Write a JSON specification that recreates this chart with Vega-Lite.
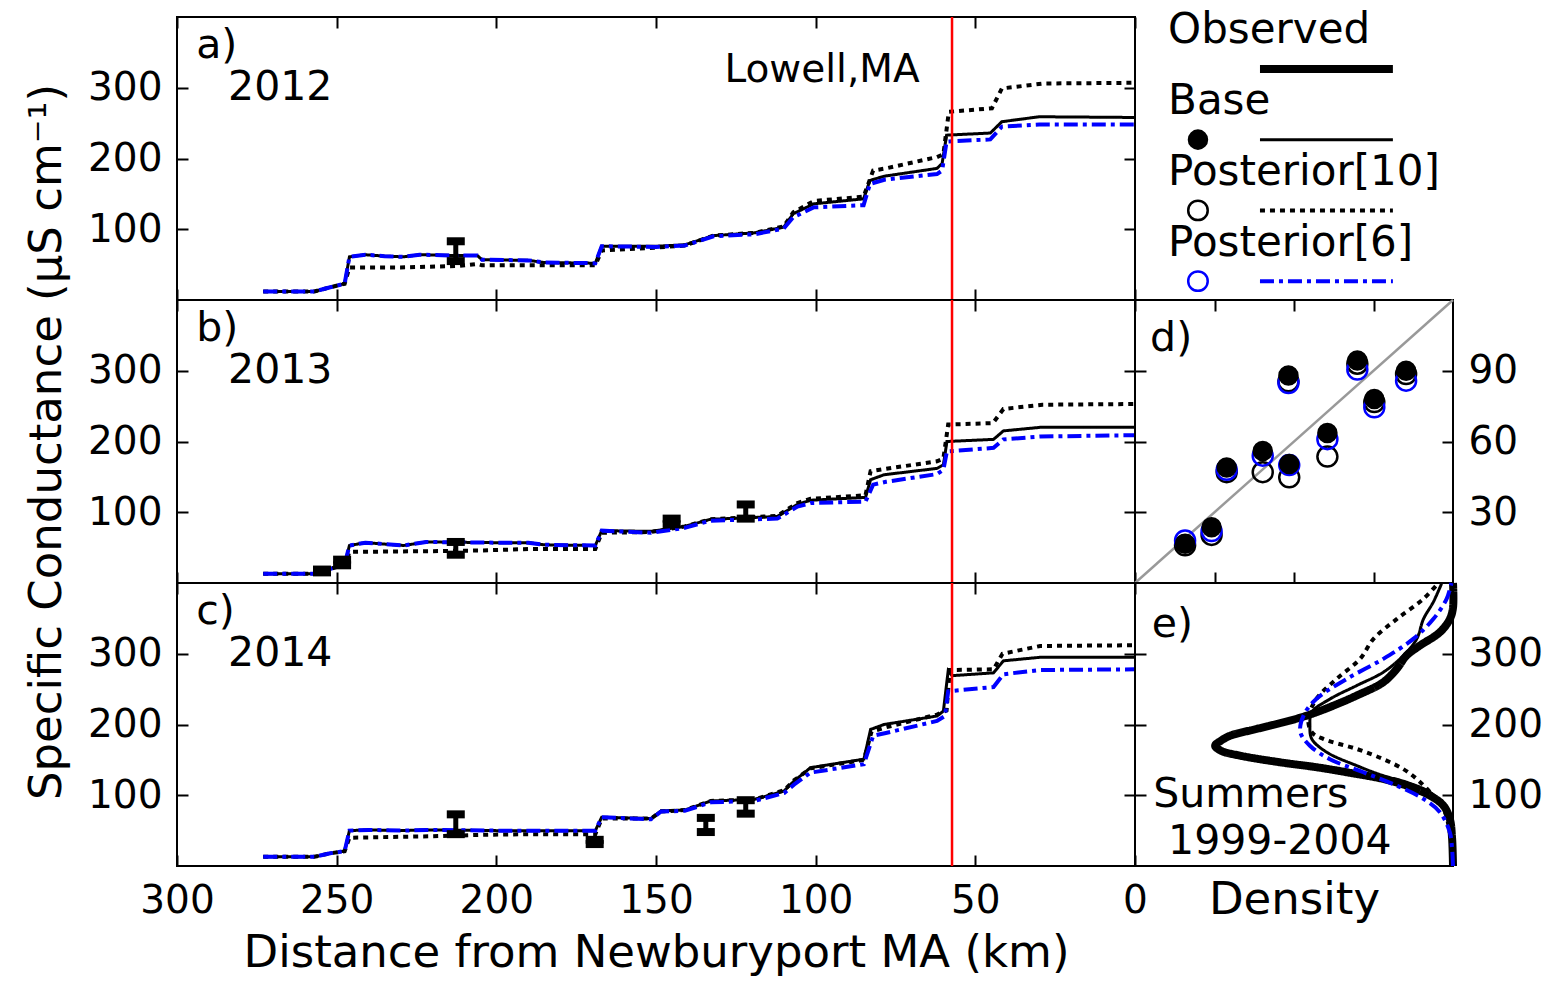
{
  "$schema": "https://vega.github.io/schema/vega-lite/v6.json",
  "background": "white",
  "padding": {"left": 23, "top": 9, "right": 0, "bottom": 0},
  "datasets": {
    "lines": [
      {"panel":"a","series":"Base","km":273,"sc":12},{"panel":"a","series":"Base","km":257,"sc":12},{"panel":"a","series":"Base","km":252,"sc":18},{"panel":"a","series":"Base","km":247.5,"sc":23},{"panel":"a","series":"Base","km":246,"sc":61},{"panel":"a","series":"Base","km":241,"sc":64},{"panel":"a","series":"Base","km":235,"sc":62},{"panel":"a","series":"Base","km":229,"sc":61},{"panel":"a","series":"Base","km":224,"sc":64},{"panel":"a","series":"Base","km":214,"sc":63},{"panel":"a","series":"Base","km":206,"sc":63},{"panel":"a","series":"Base","km":204.5,"sc":57},{"panel":"a","series":"Base","km":190,"sc":56},{"panel":"a","series":"Base","km":185,"sc":53},{"panel":"a","series":"Base","km":169,"sc":52},{"panel":"a","series":"Base","km":167,"sc":76},{"panel":"a","series":"Base","km":150,"sc":76},{"panel":"a","series":"Base","km":141,"sc":78},{"panel":"a","series":"Base","km":132,"sc":91},{"panel":"a","series":"Base","km":119,"sc":95},{"panel":"a","series":"Base","km":110,"sc":103},{"panel":"a","series":"Base","km":107,"sc":122},{"panel":"a","series":"Base","km":100.5,"sc":136},{"panel":"a","series":"Base","km":85,"sc":143},{"panel":"a","series":"Base","km":83,"sc":169},{"panel":"a","series":"Base","km":78.5,"sc":175},{"panel":"a","series":"Base","km":62,"sc":186},{"panel":"a","series":"Base","km":60.4,"sc":193},{"panel":"a","series":"Base","km":59,"sc":233},{"panel":"a","series":"Base","km":45.3,"sc":236},{"panel":"a","series":"Base","km":41.7,"sc":252},{"panel":"a","series":"Base","km":30,"sc":259},{"panel":"a","series":"Base","km":0,"sc":258},
      {"panel":"a","series":"Posterior[10]","km":273,"sc":12},{"panel":"a","series":"Posterior[10]","km":257,"sc":12},{"panel":"a","series":"Posterior[10]","km":252,"sc":18},{"panel":"a","series":"Posterior[10]","km":247.5,"sc":23},{"panel":"a","series":"Posterior[10]","km":246,"sc":46},{"panel":"a","series":"Posterior[10]","km":230,"sc":46},{"panel":"a","series":"Posterior[10]","km":222,"sc":47},{"panel":"a","series":"Posterior[10]","km":212,"sc":48},{"panel":"a","series":"Posterior[10]","km":206,"sc":51},{"panel":"a","series":"Posterior[10]","km":204.5,"sc":49},{"panel":"a","series":"Posterior[10]","km":185,"sc":49},{"panel":"a","series":"Posterior[10]","km":169,"sc":49},{"panel":"a","series":"Posterior[10]","km":167,"sc":70},{"panel":"a","series":"Posterior[10]","km":150,"sc":74},{"panel":"a","series":"Posterior[10]","km":141,"sc":77},{"panel":"a","series":"Posterior[10]","km":132,"sc":91},{"panel":"a","series":"Posterior[10]","km":119,"sc":95},{"panel":"a","series":"Posterior[10]","km":110,"sc":104},{"panel":"a","series":"Posterior[10]","km":107,"sc":124},{"panel":"a","series":"Posterior[10]","km":100.5,"sc":140},{"panel":"a","series":"Posterior[10]","km":85,"sc":146},{"panel":"a","series":"Posterior[10]","km":82,"sc":183},{"panel":"a","series":"Posterior[10]","km":78,"sc":186},{"panel":"a","series":"Posterior[10]","km":62,"sc":202},{"panel":"a","series":"Posterior[10]","km":60,"sc":206},{"panel":"a","series":"Posterior[10]","km":58.3,"sc":266},{"panel":"a","series":"Posterior[10]","km":44.8,"sc":271},{"panel":"a","series":"Posterior[10]","km":41.7,"sc":299},{"panel":"a","series":"Posterior[10]","km":28.6,"sc":306},{"panel":"a","series":"Posterior[10]","km":0,"sc":307},
      {"panel":"a","series":"Posterior[6]","km":273,"sc":12},{"panel":"a","series":"Posterior[6]","km":257,"sc":12},{"panel":"a","series":"Posterior[6]","km":252,"sc":18},{"panel":"a","series":"Posterior[6]","km":247.5,"sc":23},{"panel":"a","series":"Posterior[6]","km":246,"sc":61},{"panel":"a","series":"Posterior[6]","km":241,"sc":64},{"panel":"a","series":"Posterior[6]","km":235,"sc":62},{"panel":"a","series":"Posterior[6]","km":229,"sc":61},{"panel":"a","series":"Posterior[6]","km":224,"sc":64},{"panel":"a","series":"Posterior[6]","km":214,"sc":63},{"panel":"a","series":"Posterior[6]","km":206,"sc":63},{"panel":"a","series":"Posterior[6]","km":204.5,"sc":57},{"panel":"a","series":"Posterior[6]","km":190,"sc":56},{"panel":"a","series":"Posterior[6]","km":185,"sc":53},{"panel":"a","series":"Posterior[6]","km":169,"sc":52},{"panel":"a","series":"Posterior[6]","km":167,"sc":76},{"panel":"a","series":"Posterior[6]","km":150,"sc":75},{"panel":"a","series":"Posterior[6]","km":141,"sc":77},{"panel":"a","series":"Posterior[6]","km":132,"sc":90},{"panel":"a","series":"Posterior[6]","km":119,"sc":93},{"panel":"a","series":"Posterior[6]","km":110,"sc":101},{"panel":"a","series":"Posterior[6]","km":107,"sc":117},{"panel":"a","series":"Posterior[6]","km":100.5,"sc":131},{"panel":"a","series":"Posterior[6]","km":85,"sc":134},{"panel":"a","series":"Posterior[6]","km":83,"sc":164},{"panel":"a","series":"Posterior[6]","km":78.5,"sc":170},{"panel":"a","series":"Posterior[6]","km":62,"sc":178},{"panel":"a","series":"Posterior[6]","km":60.4,"sc":183},{"panel":"a","series":"Posterior[6]","km":59,"sc":224},{"panel":"a","series":"Posterior[6]","km":45.3,"sc":227},{"panel":"a","series":"Posterior[6]","km":41.7,"sc":245},{"panel":"a","series":"Posterior[6]","km":30,"sc":248},{"panel":"a","series":"Posterior[6]","km":0,"sc":248},
      {"panel":"b","series":"Base","km":273,"sc":13},{"panel":"b","series":"Base","km":257,"sc":13},{"panel":"b","series":"Base","km":252,"sc":20},{"panel":"b","series":"Base","km":247.5,"sc":26},{"panel":"b","series":"Base","km":246,"sc":53},{"panel":"b","series":"Base","km":241,"sc":57},{"panel":"b","series":"Base","km":235,"sc":55},{"panel":"b","series":"Base","km":229,"sc":53},{"panel":"b","series":"Base","km":222,"sc":58},{"panel":"b","series":"Base","km":200,"sc":57},{"panel":"b","series":"Base","km":190,"sc":57},{"panel":"b","series":"Base","km":185,"sc":54},{"panel":"b","series":"Base","km":169,"sc":53},{"panel":"b","series":"Base","km":167,"sc":74},{"panel":"b","series":"Base","km":151.6,"sc":73},{"panel":"b","series":"Base","km":141,"sc":80},{"panel":"b","series":"Base","km":133,"sc":90},{"panel":"b","series":"Base","km":112,"sc":94},{"panel":"b","series":"Base","km":105.7,"sc":111},{"panel":"b","series":"Base","km":101.6,"sc":117},{"panel":"b","series":"Base","km":84.4,"sc":121},{"panel":"b","series":"Base","km":82.8,"sc":146},{"panel":"b","series":"Base","km":78.6,"sc":153},{"panel":"b","series":"Base","km":62,"sc":162},{"panel":"b","series":"Base","km":60,"sc":167},{"panel":"b","series":"Base","km":58.9,"sc":200},{"panel":"b","series":"Base","km":44.3,"sc":203},{"panel":"b","series":"Base","km":41.2,"sc":215},{"panel":"b","series":"Base","km":29.7,"sc":220},{"panel":"b","series":"Base","km":0,"sc":220},
      {"panel":"b","series":"Posterior[10]","km":273,"sc":13},{"panel":"b","series":"Posterior[10]","km":257,"sc":13},{"panel":"b","series":"Posterior[10]","km":252,"sc":20},{"panel":"b","series":"Posterior[10]","km":247.5,"sc":26},{"panel":"b","series":"Posterior[10]","km":246,"sc":44},{"panel":"b","series":"Posterior[10]","km":220,"sc":45},{"panel":"b","series":"Posterior[10]","km":205,"sc":46},{"panel":"b","series":"Posterior[10]","km":190,"sc":48},{"panel":"b","series":"Posterior[10]","km":169,"sc":48},{"panel":"b","series":"Posterior[10]","km":167,"sc":71},{"panel":"b","series":"Posterior[10]","km":151.6,"sc":72},{"panel":"b","series":"Posterior[10]","km":141,"sc":80},{"panel":"b","series":"Posterior[10]","km":133,"sc":90},{"panel":"b","series":"Posterior[10]","km":112,"sc":95},{"panel":"b","series":"Posterior[10]","km":105.7,"sc":113},{"panel":"b","series":"Posterior[10]","km":101.6,"sc":119},{"panel":"b","series":"Posterior[10]","km":84.4,"sc":124},{"panel":"b","series":"Posterior[10]","km":82.8,"sc":158},{"panel":"b","series":"Posterior[10]","km":78.6,"sc":161},{"panel":"b","series":"Posterior[10]","km":62,"sc":172},{"panel":"b","series":"Posterior[10]","km":60,"sc":176},{"panel":"b","series":"Posterior[10]","km":58.5,"sc":224},{"panel":"b","series":"Posterior[10]","km":44.5,"sc":226},{"panel":"b","series":"Posterior[10]","km":41.2,"sc":246},{"panel":"b","series":"Posterior[10]","km":29,"sc":252},{"panel":"b","series":"Posterior[10]","km":0,"sc":253},
      {"panel":"b","series":"Posterior[6]","km":273,"sc":13},{"panel":"b","series":"Posterior[6]","km":257,"sc":13},{"panel":"b","series":"Posterior[6]","km":252,"sc":20},{"panel":"b","series":"Posterior[6]","km":247.5,"sc":26},{"panel":"b","series":"Posterior[6]","km":246,"sc":53},{"panel":"b","series":"Posterior[6]","km":241,"sc":57},{"panel":"b","series":"Posterior[6]","km":235,"sc":55},{"panel":"b","series":"Posterior[6]","km":229,"sc":53},{"panel":"b","series":"Posterior[6]","km":222,"sc":58},{"panel":"b","series":"Posterior[6]","km":200,"sc":57},{"panel":"b","series":"Posterior[6]","km":190,"sc":57},{"panel":"b","series":"Posterior[6]","km":185,"sc":54},{"panel":"b","series":"Posterior[6]","km":169,"sc":53},{"panel":"b","series":"Posterior[6]","km":167,"sc":74},{"panel":"b","series":"Posterior[6]","km":151.6,"sc":71},{"panel":"b","series":"Posterior[6]","km":141,"sc":78},{"panel":"b","series":"Posterior[6]","km":133,"sc":88},{"panel":"b","series":"Posterior[6]","km":112,"sc":91},{"panel":"b","series":"Posterior[6]","km":105.7,"sc":108},{"panel":"b","series":"Posterior[6]","km":101.6,"sc":113},{"panel":"b","series":"Posterior[6]","km":84.4,"sc":115},{"panel":"b","series":"Posterior[6]","km":82,"sc":139},{"panel":"b","series":"Posterior[6]","km":78,"sc":143},{"panel":"b","series":"Posterior[6]","km":62,"sc":154},{"panel":"b","series":"Posterior[6]","km":60,"sc":160},{"panel":"b","series":"Posterior[6]","km":58.9,"sc":186},{"panel":"b","series":"Posterior[6]","km":44.3,"sc":191},{"panel":"b","series":"Posterior[6]","km":41.2,"sc":203},{"panel":"b","series":"Posterior[6]","km":29.7,"sc":207},{"panel":"b","series":"Posterior[6]","km":0,"sc":209},
      {"panel":"c","series":"Base","km":273,"sc":13},{"panel":"c","series":"Base","km":257,"sc":13},{"panel":"c","series":"Base","km":252,"sc":18},{"panel":"c","series":"Base","km":247.5,"sc":21},{"panel":"c","series":"Base","km":246,"sc":50},{"panel":"c","series":"Base","km":240,"sc":51},{"panel":"c","series":"Base","km":230,"sc":50},{"panel":"c","series":"Base","km":222,"sc":51},{"panel":"c","series":"Base","km":200,"sc":50},{"panel":"c","series":"Base","km":169,"sc":50},{"panel":"c","series":"Base","km":167,"sc":69},{"panel":"c","series":"Base","km":151.6,"sc":67},{"panel":"c","series":"Base","km":148.4,"sc":78},{"panel":"c","series":"Base","km":141,"sc":79},{"panel":"c","series":"Base","km":132.8,"sc":92},{"panel":"c","series":"Base","km":119.3,"sc":94},{"panel":"c","series":"Base","km":109.9,"sc":106},{"panel":"c","series":"Base","km":106.8,"sc":120},{"panel":"c","series":"Base","km":101.6,"sc":139},{"panel":"c","series":"Base","km":84.9,"sc":151},{"panel":"c","series":"Base","km":82.8,"sc":193},{"panel":"c","series":"Base","km":78.6,"sc":200},{"panel":"c","series":"Base","km":62,"sc":212},{"panel":"c","series":"Base","km":60,"sc":219},{"panel":"c","series":"Base","km":58.5,"sc":276},{"panel":"c","series":"Base","km":57.3,"sc":269},{"panel":"c","series":"Base","km":44.3,"sc":273},{"panel":"c","series":"Base","km":41.2,"sc":290},{"panel":"c","series":"Base","km":29.7,"sc":295},{"panel":"c","series":"Base","km":0,"sc":295},
      {"panel":"c","series":"Posterior[10]","km":273,"sc":13},{"panel":"c","series":"Posterior[10]","km":257,"sc":13},{"panel":"c","series":"Posterior[10]","km":252,"sc":18},{"panel":"c","series":"Posterior[10]","km":247.5,"sc":21},{"panel":"c","series":"Posterior[10]","km":246,"sc":40},{"panel":"c","series":"Posterior[10]","km":220,"sc":42},{"panel":"c","series":"Posterior[10]","km":205,"sc":44},{"panel":"c","series":"Posterior[10]","km":190,"sc":45},{"panel":"c","series":"Posterior[10]","km":169,"sc":45},{"panel":"c","series":"Posterior[10]","km":167,"sc":67},{"panel":"c","series":"Posterior[10]","km":151.6,"sc":67},{"panel":"c","series":"Posterior[10]","km":148.4,"sc":77},{"panel":"c","series":"Posterior[10]","km":141,"sc":79},{"panel":"c","series":"Posterior[10]","km":132.8,"sc":92},{"panel":"c","series":"Posterior[10]","km":119.3,"sc":94},{"panel":"c","series":"Posterior[10]","km":109.9,"sc":107},{"panel":"c","series":"Posterior[10]","km":106.8,"sc":121},{"panel":"c","series":"Posterior[10]","km":101.6,"sc":138},{"panel":"c","series":"Posterior[10]","km":84.9,"sc":150},{"panel":"c","series":"Posterior[10]","km":82.5,"sc":190},{"panel":"c","series":"Posterior[10]","km":78,"sc":196},{"panel":"c","series":"Posterior[10]","km":62,"sc":214},{"panel":"c","series":"Posterior[10]","km":59,"sc":220},{"panel":"c","series":"Posterior[10]","km":58,"sc":277},{"panel":"c","series":"Posterior[10]","km":44.3,"sc":278},{"panel":"c","series":"Posterior[10]","km":41.5,"sc":300},{"panel":"c","series":"Posterior[10]","km":29.7,"sc":311},{"panel":"c","series":"Posterior[10]","km":0,"sc":312},
      {"panel":"c","series":"Posterior[6]","km":273,"sc":13},{"panel":"c","series":"Posterior[6]","km":257,"sc":13},{"panel":"c","series":"Posterior[6]","km":252,"sc":18},{"panel":"c","series":"Posterior[6]","km":247.5,"sc":21},{"panel":"c","series":"Posterior[6]","km":246,"sc":50},{"panel":"c","series":"Posterior[6]","km":240,"sc":51},{"panel":"c","series":"Posterior[6]","km":230,"sc":50},{"panel":"c","series":"Posterior[6]","km":222,"sc":51},{"panel":"c","series":"Posterior[6]","km":200,"sc":50},{"panel":"c","series":"Posterior[6]","km":169,"sc":50},{"panel":"c","series":"Posterior[6]","km":167,"sc":69},{"panel":"c","series":"Posterior[6]","km":151.6,"sc":66},{"panel":"c","series":"Posterior[6]","km":148.4,"sc":77},{"panel":"c","series":"Posterior[6]","km":141,"sc":78},{"panel":"c","series":"Posterior[6]","km":132.8,"sc":90},{"panel":"c","series":"Posterior[6]","km":119.3,"sc":92},{"panel":"c","series":"Posterior[6]","km":109.9,"sc":103},{"panel":"c","series":"Posterior[6]","km":106.8,"sc":115},{"panel":"c","series":"Posterior[6]","km":101.6,"sc":132},{"panel":"c","series":"Posterior[6]","km":84.9,"sc":144},{"panel":"c","series":"Posterior[6]","km":82,"sc":184},{"panel":"c","series":"Posterior[6]","km":78,"sc":188},{"panel":"c","series":"Posterior[6]","km":62,"sc":205},{"panel":"c","series":"Posterior[6]","km":59.5,"sc":212},{"panel":"c","series":"Posterior[6]","km":58.5,"sc":247},{"panel":"c","series":"Posterior[6]","km":44.3,"sc":253},{"panel":"c","series":"Posterior[6]","km":41.2,"sc":271},{"panel":"c","series":"Posterior[6]","km":29.7,"sc":277},{"panel":"c","series":"Posterior[6]","km":0,"sc":278}
    ],
    "obs": [
      {"panel":"a","km":212.7,"lo":55,"hi":83},
      {"panel":"b","km":254.6,"lo":15,"hi":19},
      {"panel":"b","km":248.3,"lo":25,"hi":33},
      {"panel":"b","km":212.7,"lo":40,"hi":58},
      {"panel":"b","km":145.1,"lo":83,"hi":91},
      {"panel":"b","km":121.9,"lo":91,"hi":111},
      {"panel":"c","km":212.7,"lo":45,"hi":73},
      {"panel":"c","km":169.2,"lo":31,"hi":37},
      {"panel":"c","km":134.4,"lo":48,"hi":68},
      {"panel":"c","km":121.9,"lo":74,"hi":93}
    ],
    "lowell": [{"km":57.3,"label":"Lowell,MA"}],
    "tags": [
      {"panel":"a","tag":"a)","year":"2012"},
      {"panel":"b","tag":"b)","year":"2013"},
      {"panel":"c","tag":"c)","year":"2014"},
      {"panel":"d","tag":"d)","year":""},
      {"panel":"e","tag":"e)","year":"Summers","period":"1999-2004"}
    ],
    "legend": [
      {"series":"Observed"},{"series":"Base"},{"series":"Posterior[10]"},{"series":"Posterior[6]"}
    ],
    "diag": [{"v":0},{"v":120}],
    "scatter": [
      {"series":"Base","obs":18.9,"mod":16.6},{"series":"Base","obs":28.9,"mod":23.6},{"series":"Base","obs":34.6,"mod":49},{"series":"Base","obs":48.2,"mod":56},{"series":"Base","obs":57.9,"mod":88},{"series":"Base","obs":58.2,"mod":50.5},{"series":"Base","obs":72.6,"mod":63.6},{"series":"Base","obs":83.9,"mod":94.3},{"series":"Base","obs":90.3,"mod":78},{"series":"Base","obs":102.3,"mod":90},
      {"series":"Posterior[10]","obs":18.9,"mod":16},{"series":"Posterior[10]","obs":28.9,"mod":20.4},{"series":"Posterior[10]","obs":34.6,"mod":47},{"series":"Posterior[10]","obs":48.2,"mod":47},{"series":"Posterior[10]","obs":57.9,"mod":85.5},{"series":"Posterior[10]","obs":58.2,"mod":44.8},{"series":"Posterior[10]","obs":72.6,"mod":53.6},{"series":"Posterior[10]","obs":83.9,"mod":93},{"series":"Posterior[10]","obs":90.3,"mod":76.7},{"series":"Posterior[10]","obs":102.3,"mod":88.6},
      {"series":"Posterior[6]","obs":18.9,"mod":18},{"series":"Posterior[6]","obs":28.9,"mod":22},{"series":"Posterior[6]","obs":34.6,"mod":48},{"series":"Posterior[6]","obs":48.2,"mod":54},{"series":"Posterior[6]","obs":57.9,"mod":84.8},{"series":"Posterior[6]","obs":58.2,"mod":50},{"series":"Posterior[6]","obs":72.6,"mod":61},{"series":"Posterior[6]","obs":83.9,"mod":90.5},{"series":"Posterior[6]","obs":90.3,"mod":74.5},{"series":"Posterior[6]","obs":102.3,"mod":85.8}
    ],
    "density": [
      {"series":"Observed","sc":0,"dens":0},{"series":"Observed","sc":40,"dens":0.003},{"series":"Observed","sc":66.5,"dens":0.01},{"series":"Observed","sc":85.3,"dens":0.03},{"series":"Observed","sc":99.4,"dens":0.072},{"series":"Observed","sc":113.6,"dens":0.146},{"series":"Observed","sc":123,"dens":0.219},{"series":"Observed","sc":132.5,"dens":0.334},{"series":"Observed","sc":139.6,"dens":0.429},{"series":"Observed","sc":146.6,"dens":0.544},{"series":"Observed","sc":156,"dens":0.67},{"series":"Observed","sc":163,"dens":0.73},{"series":"Observed","sc":170,"dens":0.748},{"series":"Observed","sc":177,"dens":0.73},{"series":"Observed","sc":184.3,"dens":0.7},{"series":"Observed","sc":193.8,"dens":0.617},{"series":"Observed","sc":205.5,"dens":0.513},{"series":"Observed","sc":215,"dens":0.444},{"series":"Observed","sc":226.7,"dens":0.376},{"series":"Observed","sc":240.9,"dens":0.303},{"series":"Observed","sc":259.8,"dens":0.219},{"series":"Observed","sc":278.6,"dens":0.177},{"series":"Observed","sc":297.5,"dens":0.146},{"series":"Observed","sc":311.6,"dens":0.104},{"series":"Observed","sc":330.5,"dens":0.041},{"series":"Observed","sc":349,"dens":0.01},{"series":"Observed","sc":365,"dens":0},{"series":"Observed","sc":400,"dens":0},
      {"series":"Base","sc":0,"dens":0},{"series":"Base","sc":40,"dens":0.003},{"series":"Base","sc":66.5,"dens":0.01},{"series":"Base","sc":85.3,"dens":0.03},{"series":"Base","sc":104.2,"dens":0.072},{"series":"Base","sc":118.4,"dens":0.146},{"series":"Base","sc":127.7,"dens":0.219},{"series":"Base","sc":141.9,"dens":0.303},{"series":"Base","sc":160.8,"dens":0.397},{"series":"Base","sc":179.6,"dens":0.444},{"series":"Base","sc":198.5,"dens":0.45},{"series":"Base","sc":217.4,"dens":0.444},{"series":"Base","sc":236,"dens":0.387},{"series":"Base","sc":255,"dens":0.303},{"series":"Base","sc":274,"dens":0.219},{"series":"Base","sc":297.5,"dens":0.156},{"series":"Base","sc":321,"dens":0.114},{"series":"Base","sc":349,"dens":0.093},{"series":"Base","sc":373,"dens":0.062},{"series":"Base","sc":399,"dens":0.036},
      {"series":"Posterior[10]","sc":0,"dens":0},{"series":"Posterior[10]","sc":47.6,"dens":0.01},{"series":"Posterior[10]","sc":80.6,"dens":0.03},{"series":"Posterior[10]","sc":104.2,"dens":0.072},{"series":"Posterior[10]","sc":123,"dens":0.114},{"series":"Posterior[10]","sc":137,"dens":0.156},{"series":"Posterior[10]","sc":151,"dens":0.219},{"series":"Posterior[10]","sc":165.5,"dens":0.303},{"series":"Posterior[10]","sc":179.6,"dens":0.408},{"series":"Posterior[10]","sc":189,"dens":0.444},{"series":"Posterior[10]","sc":208,"dens":0.455},{"series":"Posterior[10]","sc":236,"dens":0.43},{"series":"Posterior[10]","sc":264.5,"dens":0.366},{"series":"Posterior[10]","sc":292.8,"dens":0.292},{"series":"Posterior[10]","sc":321,"dens":0.25},{"series":"Posterior[10]","sc":349,"dens":0.177},{"series":"Posterior[10]","sc":377.6,"dens":0.093},{"series":"Posterior[10]","sc":400,"dens":0.046},
      {"series":"Posterior[6]","sc":0,"dens":0},{"series":"Posterior[6]","sc":25,"dens":0.003},{"series":"Posterior[6]","sc":47.6,"dens":0.01},{"series":"Posterior[6]","sc":76,"dens":0.041},{"series":"Posterior[6]","sc":94.8,"dens":0.093},{"series":"Posterior[6]","sc":113.6,"dens":0.177},{"series":"Posterior[6]","sc":132.5,"dens":0.282},{"series":"Posterior[6]","sc":151,"dens":0.387},{"series":"Posterior[6]","sc":170,"dens":0.45},{"series":"Posterior[6]","sc":189,"dens":0.48},{"series":"Posterior[6]","sc":212.6,"dens":0.47},{"series":"Posterior[6]","sc":236,"dens":0.43},{"series":"Posterior[6]","sc":264.5,"dens":0.334},{"series":"Posterior[6]","sc":292.8,"dens":0.219},{"series":"Posterior[6]","sc":321,"dens":0.125},{"series":"Posterior[6]","sc":349,"dens":0.062},{"series":"Posterior[6]","sc":377.6,"dens":0.02},{"series":"Posterior[6]","sc":400,"dens":0.005}
    ]
  },
  "columns": 2,
  "spacing": 0,
  "bounds": "flush",
  "concat": [
    {
      "width": 958, "height": 283,
      "layer": [
        {"data":{"name":"lines"},"transform":[{"filter":"datum.panel==='a'"}],"mark":{"type":"line"},
         "encoding":{
           "x":{"field":"km","type":"quantitative","scale":{"domain":[0,300],"reverse":true,"nice":false,"zero":false},"axis":{"orient":"bottom","values":[0,50,100,150,200,250,300],"labels":false,"title":null}},
           "y":{"field":"sc","type":"quantitative","scale":{"domain":[0,400],"nice":false,"zero":false},"axis":{"orient":"left","values":[100,200,300],"title":null}},
           "color":{"field":"series","type":"nominal","scale":{"domain":["Observed","Base","Posterior[10]","Posterior[6]"],"range":["#000000","#000000","#000000","#0000ff"]},"legend":null},
           "strokeDash":{"field":"series","type":"nominal","scale":{"domain":["Observed","Base","Posterior[10]","Posterior[6]"],"range":[[1,0],[1,0],[5,5],[14,5,4,5]]},"legend":null},
           "strokeWidth":{"field":"series","type":"nominal","scale":{"type":"ordinal","domain":["Observed","Base","Posterior[10]","Posterior[6]"],"range":[8,3,4,4]},"legend":null}
         }},
        {"data":{"name":"lowell"},"mark":{"type":"rule","color":"#ff0000","strokeWidth":2.5},"encoding":{"x":{"field":"km","type":"quantitative","axis":null}}},
        {"data":{"name":"obs"},"transform":[{"filter":"datum.panel==='a'"}],"mark":{"type":"rule","color":"black","strokeWidth":5},
         "encoding":{"x":{"field":"km","type":"quantitative","axis":{"orient":"top","values":[0,50,100,150,200,250,300],"labels":false,"title":null}},"y":{"field":"lo","type":"quantitative","axis":{"orient":"right","values":[100,200,300],"labels":false,"title":null}},"y2":{"field":"hi"}}},
        {"data":{"name":"obs"},"transform":[{"filter":"datum.panel==='a'"}],"mark":{"type":"tick","orient":"horizontal","color":"black","opacity":1,"thickness":8,"size":18},"encoding":{"x":{"field":"km","type":"quantitative","axis":null},"y":{"field":"lo","type":"quantitative","axis":null}}},
        {"data":{"name":"obs"},"transform":[{"filter":"datum.panel==='a'"}],"mark":{"type":"tick","orient":"horizontal","color":"black","opacity":1,"thickness":8,"size":18},"encoding":{"x":{"field":"km","type":"quantitative","axis":null},"y":{"field":"hi","type":"quantitative","axis":null}}},
        {"data":{"name":"lowell"},"mark":{"type":"text","align":"center","baseline":"alphabetic","fontSize":39},"encoding":{"text":{"field":"label"},"x":{"datum":98,"type":"quantitative","axis":null},"y":{"datum":308,"type":"quantitative","axis":null}}},
        {"data":{"name":"tags"},"transform":[{"filter":"datum.panel==='a'"}],"mark":{"type":"text","align":"left","baseline":"alphabetic","fontSize":41},"encoding":{"text":{"field":"tag"},"x":{"datum":294,"type":"quantitative","axis":null},"y":{"datum":342,"type":"quantitative","axis":null}}},
        {"data":{"name":"tags"},"transform":[{"filter":"datum.panel==='a'"}],"mark":{"type":"text","align":"left","baseline":"alphabetic","fontSize":41},"encoding":{"text":{"field":"year"},"x":{"datum":284,"type":"quantitative","axis":null},"y":{"datum":282,"type":"quantitative","axis":null}}}
      ],
      "resolve":{"axis":{"x":"independent","y":"independent"}}
    },
    {
      "width": 318, "height": 283,
      "view": {"stroke": null},
      "data": {"name":"legend"},
      "encoding": {"y":{"field":"series","type":"nominal","sort":null,"scale":{"domain":["Observed","Base","Posterior[10]","Posterior[6]"],"paddingInner":0,"paddingOuter":-0.05},"axis":null}},
      "layer": [
        {"mark":{"type":"text","align":"left","baseline":"alphabetic","fontSize":42,"yOffset":-9},"encoding":{"text":{"field":"series"},"x":{"datum":0.104,"type":"quantitative","scale":{"domain":[0,1],"nice":false},"axis":null}}},
        {"mark":{"type":"rule","yOffset":16.5},"encoding":{
           "x":{"datum":0.393,"type":"quantitative","axis":null},"x2":{"datum":0.811},
           "color":{"field":"series","type":"nominal","scale":{"domain":["Observed","Base","Posterior[10]","Posterior[6]"],"range":["#000000","#000000","#000000","#0000ff"]},"legend":null},
           "strokeDash":{"field":"series","type":"nominal","scale":{"domain":["Observed","Base","Posterior[10]","Posterior[6]"],"range":[[1,0],[1,0],[5,5],[14,5,4,5]]},"legend":null},
           "strokeWidth":{"field":"series","type":"nominal","scale":{"type":"ordinal","domain":["Observed","Base","Posterior[10]","Posterior[6]"],"range":[8,3,4,4]},"legend":null}}},
        {"transform":[{"filter":"datum.series==='Base'"}],"mark":{"type":"point","filled":true,"color":"black","opacity":1,"size":420,"yOffset":16.5},"encoding":{"x":{"datum":0.198,"type":"quantitative","axis":null}}},
        {"transform":[{"filter":"datum.series==='Posterior[10]'"}],"mark":{"type":"point","filled":false,"color":"black","opacity":1,"size":380,"strokeWidth":2.5,"yOffset":16.5},"encoding":{"x":{"datum":0.198,"type":"quantitative","axis":null}}},
        {"transform":[{"filter":"datum.series==='Posterior[6]'"}],"mark":{"type":"point","filled":false,"color":"#0000ff","opacity":1,"size":380,"strokeWidth":2.5,"yOffset":16.5},"encoding":{"x":{"datum":0.198,"type":"quantitative","axis":null}}}
      ]
    },
    {
      "width": 958, "height": 283,
      "layer": [
        {"data":{"name":"lines"},"transform":[{"filter":"datum.panel==='b'"}],"mark":{"type":"line"},
         "encoding":{
           "x":{"field":"km","type":"quantitative","scale":{"domain":[0,300],"reverse":true,"nice":false,"zero":false},"axis":{"orient":"bottom","values":[0,50,100,150,200,250,300],"labels":false,"title":null}},
           "y":{"field":"sc","type":"quantitative","scale":{"domain":[0,400],"nice":false,"zero":false},"axis":{"orient":"left","values":[100,200,300],"title":"Specific Conductance (μS cm⁻¹)","titlePadding":18}},
           "color":{"field":"series","type":"nominal","scale":{"domain":["Observed","Base","Posterior[10]","Posterior[6]"],"range":["#000000","#000000","#000000","#0000ff"]},"legend":null},
           "strokeDash":{"field":"series","type":"nominal","scale":{"domain":["Observed","Base","Posterior[10]","Posterior[6]"],"range":[[1,0],[1,0],[5,5],[14,5,4,5]]},"legend":null},
           "strokeWidth":{"field":"series","type":"nominal","scale":{"type":"ordinal","domain":["Observed","Base","Posterior[10]","Posterior[6]"],"range":[8,3,4,4]},"legend":null}
         }},
        {"data":{"name":"lowell"},"mark":{"type":"rule","color":"#ff0000","strokeWidth":2.5},"encoding":{"x":{"field":"km","type":"quantitative","axis":null}}},
        {"data":{"name":"obs"},"transform":[{"filter":"datum.panel==='b'"}],"mark":{"type":"rule","color":"black","strokeWidth":5},
         "encoding":{"x":{"field":"km","type":"quantitative","axis":{"orient":"top","values":[0,50,100,150,200,250,300],"labels":false,"title":null}},"y":{"field":"lo","type":"quantitative","axis":{"orient":"right","values":[100,200,300],"labels":false,"title":null}},"y2":{"field":"hi"}}},
        {"data":{"name":"obs"},"transform":[{"filter":"datum.panel==='b'"}],"mark":{"type":"tick","orient":"horizontal","color":"black","opacity":1,"thickness":8,"size":18},"encoding":{"x":{"field":"km","type":"quantitative","axis":null},"y":{"field":"lo","type":"quantitative","axis":null}}},
        {"data":{"name":"obs"},"transform":[{"filter":"datum.panel==='b'"}],"mark":{"type":"tick","orient":"horizontal","color":"black","opacity":1,"thickness":8,"size":18},"encoding":{"x":{"field":"km","type":"quantitative","axis":null},"y":{"field":"hi","type":"quantitative","axis":null}}},
        {"data":{"name":"tags"},"transform":[{"filter":"datum.panel==='b'"}],"mark":{"type":"text","align":"left","baseline":"alphabetic","fontSize":41},"encoding":{"text":{"field":"tag"},"x":{"datum":294,"type":"quantitative","axis":null},"y":{"datum":342,"type":"quantitative","axis":null}}},
        {"data":{"name":"tags"},"transform":[{"filter":"datum.panel==='b'"}],"mark":{"type":"text","align":"left","baseline":"alphabetic","fontSize":41},"encoding":{"text":{"field":"year"},"x":{"datum":284,"type":"quantitative","axis":null},"y":{"datum":282,"type":"quantitative","axis":null}}}
      ],
      "resolve":{"axis":{"x":"independent","y":"independent"}}
    },
    {
      "width": 318, "height": 283,
      "layer": [
        {"data":{"name":"diag"},"mark":{"type":"line","color":"#999999","strokeWidth":2.5},
         "encoding":{"x":{"field":"v","type":"quantitative","scale":{"domain":[0,120],"nice":false,"zero":false},"axis":{"orient":"bottom","values":[30,60,90],"labels":false,"title":null}},
                     "y":{"field":"v","type":"quantitative","scale":{"domain":[0,120],"nice":false,"zero":false},"axis":{"orient":"left","values":[30,60,90],"labels":false,"title":null}}}},
        {"data":{"name":"scatter"},"transform":[{"filter":"datum.series==='Posterior[10]'"}],"mark":{"type":"point","filled":false,"color":"black","opacity":1,"size":400,"strokeWidth":2.5},
         "encoding":{"x":{"field":"obs","type":"quantitative","axis":{"orient":"top","values":[30,60,90],"labels":false,"title":null}},"y":{"field":"mod","type":"quantitative","axis":{"orient":"right","values":[30,60,90],"title":null}}}},
        {"data":{"name":"scatter"},"transform":[{"filter":"datum.series==='Posterior[6]'"}],"mark":{"type":"point","filled":false,"color":"#0000ff","opacity":1,"size":400,"strokeWidth":2.5},
         "encoding":{"x":{"field":"obs","type":"quantitative","axis":null},"y":{"field":"mod","type":"quantitative","axis":null}}},
        {"data":{"name":"scatter"},"transform":[{"filter":"datum.series==='Base'"}],"mark":{"type":"point","filled":true,"color":"black","opacity":1,"size":420},
         "encoding":{"x":{"field":"obs","type":"quantitative","axis":null},"y":{"field":"mod","type":"quantitative","axis":null}}},
        {"data":{"name":"tags"},"transform":[{"filter":"datum.panel==='d'"}],"mark":{"type":"text","align":"left","baseline":"alphabetic","fontSize":41},"encoding":{"text":{"field":"tag"},"x":{"datum":5.7,"type":"quantitative","axis":null},"y":{"datum":98.5,"type":"quantitative","axis":null}}}
      ],
      "resolve":{"axis":{"x":"independent","y":"independent"}}
    },
    {
      "width": 958, "height": 283,
      "layer": [
        {"data":{"name":"lines"},"transform":[{"filter":"datum.panel==='c'"}],"mark":{"type":"line"},
         "encoding":{
           "x":{"field":"km","type":"quantitative","scale":{"domain":[0,300],"reverse":true,"nice":false,"zero":false},"axis":{"orient":"bottom","values":[0,50,100,150,200,250,300],"title":"Distance from Newburyport MA (km)"}},
           "y":{"field":"sc","type":"quantitative","scale":{"domain":[0,400],"nice":false,"zero":false},"axis":{"orient":"left","values":[100,200,300],"title":null}},
           "color":{"field":"series","type":"nominal","scale":{"domain":["Observed","Base","Posterior[10]","Posterior[6]"],"range":["#000000","#000000","#000000","#0000ff"]},"legend":null},
           "strokeDash":{"field":"series","type":"nominal","scale":{"domain":["Observed","Base","Posterior[10]","Posterior[6]"],"range":[[1,0],[1,0],[5,5],[14,5,4,5]]},"legend":null},
           "strokeWidth":{"field":"series","type":"nominal","scale":{"type":"ordinal","domain":["Observed","Base","Posterior[10]","Posterior[6]"],"range":[8,3,4,4]},"legend":null}
         }},
        {"data":{"name":"lowell"},"mark":{"type":"rule","color":"#ff0000","strokeWidth":2.5},"encoding":{"x":{"field":"km","type":"quantitative","axis":null}}},
        {"data":{"name":"obs"},"transform":[{"filter":"datum.panel==='c'"}],"mark":{"type":"rule","color":"black","strokeWidth":5},
         "encoding":{"x":{"field":"km","type":"quantitative","axis":{"orient":"top","values":[0,50,100,150,200,250,300],"labels":false,"title":null}},"y":{"field":"lo","type":"quantitative","axis":{"orient":"right","values":[100,200,300],"labels":false,"title":null}},"y2":{"field":"hi"}}},
        {"data":{"name":"obs"},"transform":[{"filter":"datum.panel==='c'"}],"mark":{"type":"tick","orient":"horizontal","color":"black","opacity":1,"thickness":8,"size":18},"encoding":{"x":{"field":"km","type":"quantitative","axis":null},"y":{"field":"lo","type":"quantitative","axis":null}}},
        {"data":{"name":"obs"},"transform":[{"filter":"datum.panel==='c'"}],"mark":{"type":"tick","orient":"horizontal","color":"black","opacity":1,"thickness":8,"size":18},"encoding":{"x":{"field":"km","type":"quantitative","axis":null},"y":{"field":"hi","type":"quantitative","axis":null}}},
        {"data":{"name":"tags"},"transform":[{"filter":"datum.panel==='c'"}],"mark":{"type":"text","align":"left","baseline":"alphabetic","fontSize":41},"encoding":{"text":{"field":"tag"},"x":{"datum":294,"type":"quantitative","axis":null},"y":{"datum":342,"type":"quantitative","axis":null}}},
        {"data":{"name":"tags"},"transform":[{"filter":"datum.panel==='c'"}],"mark":{"type":"text","align":"left","baseline":"alphabetic","fontSize":41},"encoding":{"text":{"field":"year"},"x":{"datum":284,"type":"quantitative","axis":null},"y":{"datum":282,"type":"quantitative","axis":null}}}
      ],
      "resolve":{"axis":{"x":"independent","y":"independent"}}
    },
    {
      "width": 318, "height": 283,
      "layer": [
        {"data":{"name":"density"},"transform":[{"filter":"datum.series==='Observed'"}],"mark":{"type":"line","interpolate":"catmull-rom"},
         "encoding":{
           "x":{"field":"dens","type":"quantitative","scale":{"domain":[0,1],"reverse":true,"nice":false,"zero":false},"axis":{"orient":"bottom","ticks":false,"labels":false,"title":"Density","titlePadding":11}},
           "y":{"field":"sc","type":"quantitative","scale":{"domain":[0,400],"nice":false,"zero":false},"axis":{"orient":"left","values":[100,200,300],"labels":false,"title":null}},
           "order":{"field":"sc","type":"quantitative"},
           "color":{"field":"series","type":"nominal","scale":{"domain":["Observed","Base","Posterior[10]","Posterior[6]"],"range":["#000000","#000000","#000000","#0000ff"]},"legend":null},
           "strokeDash":{"field":"series","type":"nominal","scale":{"domain":["Observed","Base","Posterior[10]","Posterior[6]"],"range":[[1,0],[1,0],[5,5],[14,5,4,5]]},"legend":null},
           "strokeWidth":{"field":"series","type":"nominal","scale":{"type":"ordinal","domain":["Observed","Base","Posterior[10]","Posterior[6]"],"range":[8,3,4,4]},"legend":null}
         }},
        {"data":{"name":"density"},"transform":[{"filter":"datum.series!=='Observed'"}],"mark":{"type":"line","interpolate":"catmull-rom"},
         "encoding":{
           "x":{"field":"dens","type":"quantitative","axis":null},
           "y":{"field":"sc","type":"quantitative","axis":{"orient":"right","values":[100,200,300],"title":null}},
           "order":{"field":"sc","type":"quantitative"},
           "color":{"field":"series","type":"nominal","scale":{"domain":["Observed","Base","Posterior[10]","Posterior[6]"],"range":["#000000","#000000","#000000","#0000ff"]},"legend":null},
           "strokeDash":{"field":"series","type":"nominal","scale":{"domain":["Observed","Base","Posterior[10]","Posterior[6]"],"range":[[1,0],[1,0],[5,5],[14,5,4,5]]},"legend":null},
           "strokeWidth":{"field":"series","type":"nominal","scale":{"type":"ordinal","domain":["Observed","Base","Posterior[10]","Posterior[6]"],"range":[8,3,4,4]},"legend":null}
         }},
        {"data":{"name":"tags"},"transform":[{"filter":"datum.panel==='e'"}],"mark":{"type":"text","align":"left","baseline":"alphabetic","fontSize":41},"encoding":{"text":{"field":"tag"},"x":{"datum":0.947,"type":"quantitative","axis":null},"y":{"datum":324,"type":"quantitative","axis":null}}},
        {"data":{"name":"tags"},"transform":[{"filter":"datum.panel==='e'"}],"mark":{"type":"text","align":"left","baseline":"alphabetic","fontSize":41},"encoding":{"text":{"field":"year"},"x":{"datum":0.943,"type":"quantitative","axis":null},"y":{"datum":83.5,"type":"quantitative","axis":null}}},
        {"data":{"name":"tags"},"transform":[{"filter":"datum.panel==='e'"}],"mark":{"type":"text","align":"left","baseline":"alphabetic","fontSize":41},"encoding":{"text":{"field":"period"},"x":{"datum":0.896,"type":"quantitative","axis":null},"y":{"datum":17,"type":"quantitative","axis":null}}}
      ],
      "resolve":{"axis":{"x":"independent","y":"independent"}}
    }
  ],
  "config": {
    "font": "DejaVu Sans",
    "view": {"stroke": "black", "strokeWidth": 2},
    "axis": {"grid": false, "domain": false, "tickColor": "black", "tickWidth": 2, "tickSize": -11, "labelFont": "DejaVu Sans", "labelFontSize": 39, "labelColor": "black", "labelPadding": 26, "labelFlush": false, "labelOverlap": false, "titleFont": "DejaVu Sans", "titleFontSize": 45, "titleFontWeight": "normal", "titleColor": "black", "titlePadding": 10},
    "text": {"font": "DejaVu Sans", "color": "black"},
    "line": {"strokeCap": "butt"}
  }
}
